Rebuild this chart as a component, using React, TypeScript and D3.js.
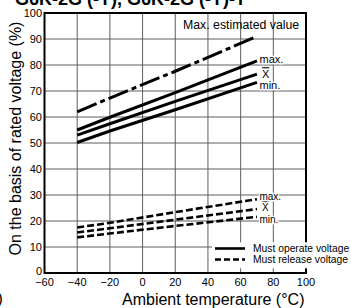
import React, { useRef, useEffect } from "react";
import * as d3 from "d3";

const temps: number[] = [-40, -20, 20, 70];

const estimatedMax: number[] = [62, 67.3, 77.6, 91];
const operateMax: number[] = [55, 59.9, 69.4, 81.6];
const operateAvg: number[] = [53, 57.4, 66, 76.5];
const operateMin: number[] = [50.2, 54.6, 62.8, 73.3];
const releaseMax: number[] = [17.5, 19.3, 23.4, 28.4];
const releaseAvg: number[] = [15.6, 17.2, 20.5, 24.6];
const releaseMin: number[] = [13.7, 15.2, 18.1, 21.6];

const xTicks: number[] = [-60, -40, -20, 0, 20, 40, 60, 80, 100];
const yTicks: number[] = [0, 10, 20, 30, 40, 50, 60, 70, 80, 90, 100];

const FONT = "Arial, 'Liberation Sans', Helvetica, sans-serif";

interface ISeries {
  values: number[];
  kind: "dashdot" | "solid" | "dashed";
  label?: string;
}

const series: ISeries[] = [
  { values: estimatedMax, kind: "dashdot" },
  { values: operateMax, kind: "solid", label: "max." },
  { values: operateAvg, kind: "solid", label: "X" },
  { values: operateMin, kind: "solid", label: "min." },
  { values: releaseMax, kind: "dashed", label: "max." },
  { values: releaseAvg, kind: "dashed", label: "X" },
  { values: releaseMin, kind: "dashed", label: "min." },
];

const App: React.FC = () => {
  const ref = useRef<SVGSVGElement>(null);
  const width = 351;
  const height = 308;
  const margin = { top: 13, right: 45, bottom: 35, left: 44.5 };

  useEffect(() => {
    const svg = d3.select(ref.current);
    svg.selectAll("*").remove();

    const xScale = d3
      .scaleLinear()
      .domain([-60, 100])
      .range([margin.left, width - margin.right]);
    const yScale = d3
      .scaleLinear()
      .domain([0, 100])
      .range([height - margin.bottom, margin.top]);

    const x0 = xScale(-60);
    const x1 = xScale(100);
    const y0 = yScale(0);
    const y1 = yScale(100);

    // grid
    const grid = svg.append("g");
    grid
      .selectAll("line.vx")
      .data(xTicks.slice(1, -1))
      .enter()
      .append("line")
      .attr("x1", (d) => xScale(d))
      .attr("x2", (d) => xScale(d))
      .attr("y1", y1)
      .attr("y2", y0)
      .attr("stroke", "#5e5e5e")
      .attr("stroke-width", 1);
    grid
      .selectAll("line.hy")
      .data(yTicks.slice(1, -1))
      .enter()
      .append("line")
      .attr("x1", x0)
      .attr("x2", x1)
      .attr("y1", (d) => yScale(d))
      .attr("y2", (d) => yScale(d))
      .attr("stroke", "#5e5e5e")
      .attr("stroke-width", 1);

    // legend background hides grid and frame
    svg
      .append("rect")
      .attr("x", 212)
      .attr("y", yScale(11.8))
      .attr("width", 139)
      .attr("height", 26)
      .attr("fill", "white");

    // frame
    svg
      .append("rect")
      .attr("x", x0)
      .attr("y", y1)
      .attr("width", x1 - x0)
      .attr("height", y0 - y1)
      .attr("fill", "none")
      .attr("stroke", "black")
      .attr("stroke-width", 2);
    svg
      .append("rect")
      .attr("x", 300)
      .attr("y", yScale(11.8))
      .attr("width", 51)
      .attr("height", 26)
      .attr("fill", "white");

    // tick labels
    svg
      .append("g")
      .selectAll("text")
      .data(yTicks)
      .enter()
      .append("text")
      .attr("x", x0 - 2.5)
      .attr("y", (d) => yScale(d) + (d === 0 ? -0.5 : 1))
      .attr("text-anchor", "end")
      .attr("dominant-baseline", "middle")
      .attr("font-family", FONT)
      .attr("font-size", 11)
      .text((d) => String(d));
    svg
      .append("g")
      .selectAll("text")
      .data(xTicks)
      .enter()
      .append("text")
      .attr("x", (d) => xScale(d))
      .attr("y", y0 + 13)
      .attr("text-anchor", "middle")
      .attr("font-family", FONT)
      .attr("font-size", 11)
      .text((d) => (d < 0 ? "\u2212" + Math.abs(d) : String(d)));

    // curves
    const line = d3
      .line<number>()
      .x((_d, i) => xScale(temps[i]))
      .y((d) => yScale(d));

    const styleFor = (k: string) => {
      if (k === "dashdot") return { w: 3, dash: "21,4,5,4" };
      if (k === "dashed") return { w: 2.6, dash: "7,3" };
      return { w: 3, dash: null };
    };

    series.forEach((s) => {
      const st = styleFor(s.kind);
      const p = svg
        .append("path")
        .attr("d", line(s.values) || "")
        .attr("fill", "none")
        .attr("stroke", "black")
        .attr("stroke-width", st.w);
      if (st.dash) p.attr("stroke-dasharray", st.dash);
    });

    // curve labels
    series
      .filter((s) => s.label)
      .forEach((s, i) => {
        const last = s.values[s.values.length - 1];
        const upper = s.kind === "solid";
        const off = upper ? [-0.8, -1.6, -2.6][i % 3] : [-0.4, -0.9, -2.3][i % 3];
        const t = svg
          .append("text")
          .attr("x", xScale(temps[temps.length - 1]) + (s.label === "X" ? 5 : 2.5))
          .attr("y", yScale(last + off))
          .attr("font-family", FONT)
          .attr("font-size", upper ? 11 : 10)
          .attr("stroke", "white")
          .attr("stroke-width", 2.5)
          .attr("paint-order", "stroke")
          .text(s.label || "");
        if (s.label === "X") t.style("text-decoration", "overline");
      });

    svg
      .append("text")
      .attr("x", 183)
      .attr("y", 29)
      .attr("font-family", FONT)
      .attr("font-size", 12.3)
      .text("Max. estimated value");

    // legend
    const lg = svg.append("g");
    lg.append("line")
      .attr("x1", 215)
      .attr("x2", 245)
      .attr("y1", 248.5)
      .attr("y2", 248.5)
      .attr("stroke", "black")
      .attr("stroke-width", 2.6);
    lg.append("line")
      .attr("x1", 215)
      .attr("x2", 245)
      .attr("y1", 259.5)
      .attr("y2", 259.5)
      .attr("stroke", "black")
      .attr("stroke-width", 2.6)
      .attr("stroke-dasharray", "6,3");
    lg.append("text")
      .attr("x", 253)
      .attr("y", 252)
      .attr("font-family", FONT)
      .attr("font-size", 10.3)
      .text("Must operate voltage");
    lg.append("text")
      .attr("x", 253)
      .attr("y", 263)
      .attr("font-family", FONT)
      .attr("font-size", 10.3)
      .text("Must release voltage");

    // axis titles
    svg
      .append("text")
      .attr("transform", `translate(21, ${(y0 + 4) / 2}) rotate(-90)`)
      .attr("text-anchor", "middle")
      .attr("font-family", FONT)
      .attr("font-size", 16)
      .text("On the basis of rated voltage (%)");
    svg
      .append("text")
      .attr("x", 122)
      .attr("y", 305)
      .attr("font-family", FONT)
      .attr("font-size", 16)
      .text("Ambient temperature (\u00b0C)");

    // title (cut at the top of the picture)
    svg
      .append("text")
      .attr("x", 15)
      .attr("y", 5)
      .attr("font-family", FONT)
      .attr("font-size", 18)
      .attr("font-weight", "bold")
      .text("G6K-2G (-Y), G6K-2G (-Y)-T");
    svg
      .append("text")
      .attr("x", -2.5)
      .attr("y", 304)
      .attr("fill", "black")
      .attr("font-family", FONT)
      .attr("font-size", 16)
      .text(")");
  });

  return (
    <svg
      ref={ref}
      width={width}
      height={height}
      style={{ position: "absolute", left: 0, top: 0, background: "white" }}
    ></svg>
  );
};

export default App;
